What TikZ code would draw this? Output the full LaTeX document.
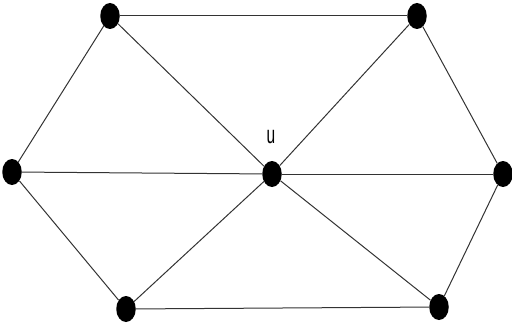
\documentclass[tikz,border=0pt]{standalone}
\usepackage{fontspec}
\setmainfont{Liberation Sans}
\usetikzlibrary{shapes.geometric,backgrounds}
\begin{document}
\begin{tikzpicture}[x=1pt,y=-1pt,
  vtx/.style={ellipse,fill=black,inner sep=0pt,minimum width=19.5pt,minimum height=26pt},
  edge/.style={draw=black!80,line width=1pt}]
\useasboundingbox (0,0) rectangle (512,329);
\node[vtx] (tl) at (110,16) {};
\node[vtx] (tr) at (417,16) {};
\node[vtx] (l) at (12,172) {};
\node[vtx] (c) at (272,174) {};
\node[vtx] (r) at (503,174) {};
\node[vtx] (bl) at (126,309) {};
\node[vtx] (br) at (439,307) {};
\node[font=\fontsize{25}{25}\selectfont, xscale=0.62, inner sep=0pt] (u) at (271,137) {u};
\begin{scope}[on background layer]
\draw[edge] (tl) -- (tr);
\draw[edge] (tl) -- (l);
\draw[edge] (tl) -- (c);
\draw[edge] (tr) -- (c);
\draw[edge] (tr) -- (r);
\draw[edge] (l) -- (c);
\draw[edge] (c) -- (r);
\draw[edge] (l) -- (bl);
\draw[edge] (c) -- (bl);
\draw[edge] (c) -- (br);
\draw[edge] (r) -- (br);
\draw[edge] (bl) -- (br);
\end{scope}
\end{tikzpicture}
\end{document}
